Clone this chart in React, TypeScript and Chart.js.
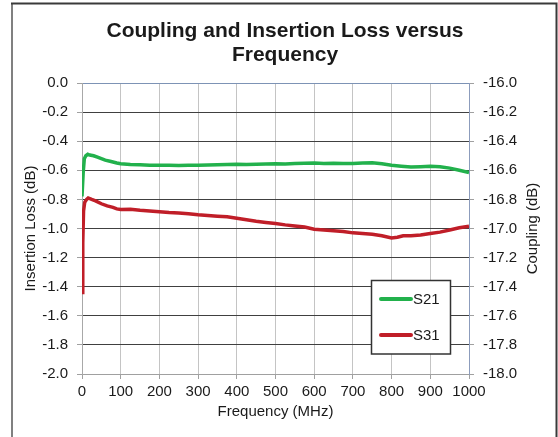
import React, { useEffect, useRef } from 'react';
import { Chart, registerables } from 'chart.js';

Chart.register(...registerables);

const titleLines = ['Coupling and Insertion Loss versus', 'Frequency'];
const xTitle = 'Frequency (MHz)';
const yLeftTitle = 'Insertion Loss (dB)';
const yRightTitle = 'Coupling (dB)';

const s21Label = 'S21';
const s31Label = 'S31';

const s21Freq = [0, 3, 6, 10, 15, 20, 30, 40, 50, 60, 75, 90, 100, 125, 150, 175, 200, 225, 250, 275, 300, 325, 350, 375, 400, 425, 450, 475, 500, 525, 550, 575, 600, 625, 650, 675, 700, 725, 750, 775, 800, 825, 850, 875, 900, 925, 950, 975, 1000];
const s21Loss = [-0.78, -0.62, -0.52, -0.5, -0.49, -0.495, -0.5, -0.51, -0.52, -0.53, -0.54, -0.55, -0.555, -0.56, -0.562, -0.565, -0.565, -0.566, -0.567, -0.565, -0.565, -0.563, -0.562, -0.56, -0.558, -0.56, -0.558, -0.556, -0.555, -0.556, -0.553, -0.552, -0.55, -0.553, -0.552, -0.553, -0.553, -0.55, -0.548, -0.555, -0.565, -0.572, -0.578, -0.575, -0.572, -0.575, -0.585, -0.6, -0.615];

const s31Freq = [0, 2, 4, 7, 12, 16, 25, 35, 50, 65, 80, 90, 100, 125, 150, 175, 200, 225, 250, 275, 300, 325, 350, 375, 400, 425, 450, 475, 500, 525, 550, 575, 600, 625, 650, 675, 700, 725, 750, 775, 800, 815, 830, 850, 875, 900, 925, 950, 975, 1000];
const s31Coupling = [-17.44, -17.1, -16.88, -16.82, -16.8, -16.79, -16.8, -16.81, -16.83, -16.845, -16.855, -16.865, -16.87, -16.868, -16.875, -16.88, -16.885, -16.89, -16.893, -16.898, -16.905, -16.91, -16.915, -16.92, -16.93, -16.94, -16.95, -16.958, -16.965, -16.975, -16.983, -16.99, -17.005, -17.01, -17.015, -17.02, -17.03, -17.035, -17.04, -17.05, -17.065, -17.06, -17.05, -17.05, -17.045, -17.035, -17.025, -17.01, -16.995, -16.985];

const xMin = 0;
const xMax = 1000;
const xStep = 100;
const leftMin = -2;
const leftMax = 0;
const rightMin = -18;
const rightMax = -16;
const yStep = 0.2;

const GREEN = 'rgb(34,177,76)';
const RED = 'rgb(192,30,40)';
const FONT = "'Liberation Sans', Arial, Helvetica, sans-serif";

export default function App() {
  const ref = useRef<HTMLCanvasElement | null>(null);

  useEffect(() => {
    const canvas = ref.current;
    if (!canvas) return;

    const decor = {
      id: 'decor',
      beforeDraw(chart: any) {
        const ctx = chart.ctx;
        ctx.save();
        ctx.fillStyle = '#ffffff';
        ctx.fillRect(0, 0, chart.width, chart.height);
        ctx.restore();
      },
      afterDraw(chart: any) {
        const ctx = chart.ctx;
        const area = chart.chartArea;
        ctx.save();
        // outer frame
        ctx.lineWidth = 2;
        ctx.strokeStyle = '#3a3a3a';
        ctx.beginPath();
        ctx.moveTo(12, 445);
        ctx.lineTo(12, 3.5);
        ctx.lineTo(556.5, 3.5);
        ctx.lineTo(556.5, 445);
        ctx.stroke();
        ctx.strokeStyle = '#808080';
        ctx.beginPath();
        ctx.moveTo(12, 445);
        ctx.lineTo(12, 4.5);
        ctx.stroke();

        // title
        ctx.fillStyle = '#1a1a1a';
        ctx.textAlign = 'center';
        ctx.textBaseline = 'alphabetic';
        ctx.font = `bold 21px ${FONT}`;
        ctx.fillText(titleLines[0], 285, 37);
        ctx.fillText(titleLines[1], 285, 61);

        // axis titles
        ctx.font = `15px ${FONT}`;
        ctx.textBaseline = 'middle';
        ctx.fillText(xTitle, (area.left + area.right) / 2, 412);
        const midY = (area.top + area.bottom) / 2;
        ctx.save();
        ctx.translate(31, midY);
        ctx.rotate(-Math.PI / 2);
        ctx.fillText(yLeftTitle, 0, 0);
        ctx.restore();
        ctx.save();
        ctx.translate(533, midY);
        ctx.rotate(-Math.PI / 2);
        ctx.fillText(yRightTitle, 0, 0);
        ctx.restore();

        // legend
        ctx.fillStyle = '#ffffff';
        ctx.fillRect(371.5, 280.5, 79, 73.5);
        ctx.lineWidth = 1.5;
        ctx.strokeStyle = '#333333';
        ctx.strokeRect(371.5, 280.5, 79, 73.5);
        const ds = chart.data.datasets;
        const rows = [299, 335];
        ds.forEach((d: any, i: number) => {
          ctx.strokeStyle = d.borderColor;
          ctx.lineWidth = 4;
          ctx.lineCap = 'round';
          ctx.beginPath();
          ctx.moveTo(381, rows[i]);
          ctx.lineTo(411, rows[i]);
          ctx.stroke();
          ctx.fillStyle = '#1a1a1a';
          ctx.font = `15px ${FONT}`;
          ctx.textAlign = 'left';
          ctx.textBaseline = 'middle';
          ctx.fillText(d.label, 413, rows[i] + 0.5);
        });
        ctx.restore();
      },
    };

    const near = (a: number, b: number) => Math.abs(a - b) < 1e-6;

    const chart = new Chart(canvas, {
      type: 'line',
      data: {
        datasets: [
          {
            label: s21Label,
            data: s21Freq.map((f, i) => ({ x: f, y: s21Loss[i] })),
            borderColor: GREEN,
            borderWidth: 3.5,
            pointRadius: 0,
            tension: 0,
            yAxisID: 'y',
          },
          {
            label: s31Label,
            data: s31Freq.map((f, i) => ({ x: f, y: s31Coupling[i] })),
            borderColor: RED,
            borderWidth: 3.5,
            pointRadius: 0,
            tension: 0,
            yAxisID: 'y2',
          },
        ],
      },
      options: {
        responsive: false,
        animation: false,
        devicePixelRatio: 1,
        layout: { padding: { top: 83, left: 0, right: 0, bottom: 0 } },
        plugins: {
          legend: { display: false },
          title: { display: false },
          tooltip: { enabled: false },
        },
        scales: {
          x: {
            type: 'linear',
            min: xMin,
            max: xMax,
            afterFit: (s: any) => { s.height = 63; },
            ticks: {
              stepSize: xStep,
              color: '#1a1a1a',
              font: { family: FONT, size: 15 },
              padding: 4,
              maxRotation: 0,
              autoSkip: false,
              callback: (v: any) => String(Math.round(Number(v))),
            },
            grid: {
              color: (c: any) => (c.tick && near(c.tick.value, xMax) ? '#8c9cbc' : '#c4c4c4'),
              tickColor: '#a0a0a0',
              tickLength: 5,
              lineWidth: 1,
            },
            border: { color: '#a0a0a0' },
          },
          y: {
            type: 'linear',
            position: 'left',
            min: leftMin,
            max: leftMax,
            afterFit: (s: any) => { s.width = 82; },
            ticks: {
              stepSize: yStep,
              color: '#1a1a1a',
              font: { family: FONT, size: 15 },
              padding: 9,
              callback: (v: any) => Number(v).toFixed(1),
            },
            grid: {
              color: (c: any) => {
                const v = c.tick ? c.tick.value : 0;
                if (near(v, leftMax)) return '#7d93b5';
                if (near(v, leftMin)) return '#a0a0a0';
                return '#404040';
              },
              tickColor: '#a0a0a0',
              tickLength: 5,
              lineWidth: 1,
            },
            border: { color: '#a8a8a8' },
          },
          y2: {
            type: 'linear',
            position: 'right',
            min: rightMin,
            max: rightMax,
            afterFit: (s: any) => { s.width = 89; },
            ticks: {
              stepSize: yStep,
              color: '#1a1a1a',
              font: { family: FONT, size: 15 },
              padding: 9,
              callback: (v: any) => Number(v).toFixed(1),
            },
            grid: {
              drawOnChartArea: false,
              tickColor: '#a0a0a0',
              tickLength: 5,
            },
            border: { color: '#8c9cbc' },
          },
        },
      },
      plugins: [decor],
    } as any);

    return () => chart.destroy();
  }, []);

  return (
    <div style={{ position: 'fixed', left: 0, top: 0, width: 558, height: 437 }}>
      <canvas ref={ref} width={558} height={437} style={{ display: 'block', width: 558, height: 437 }} />
    </div>
  );
}
